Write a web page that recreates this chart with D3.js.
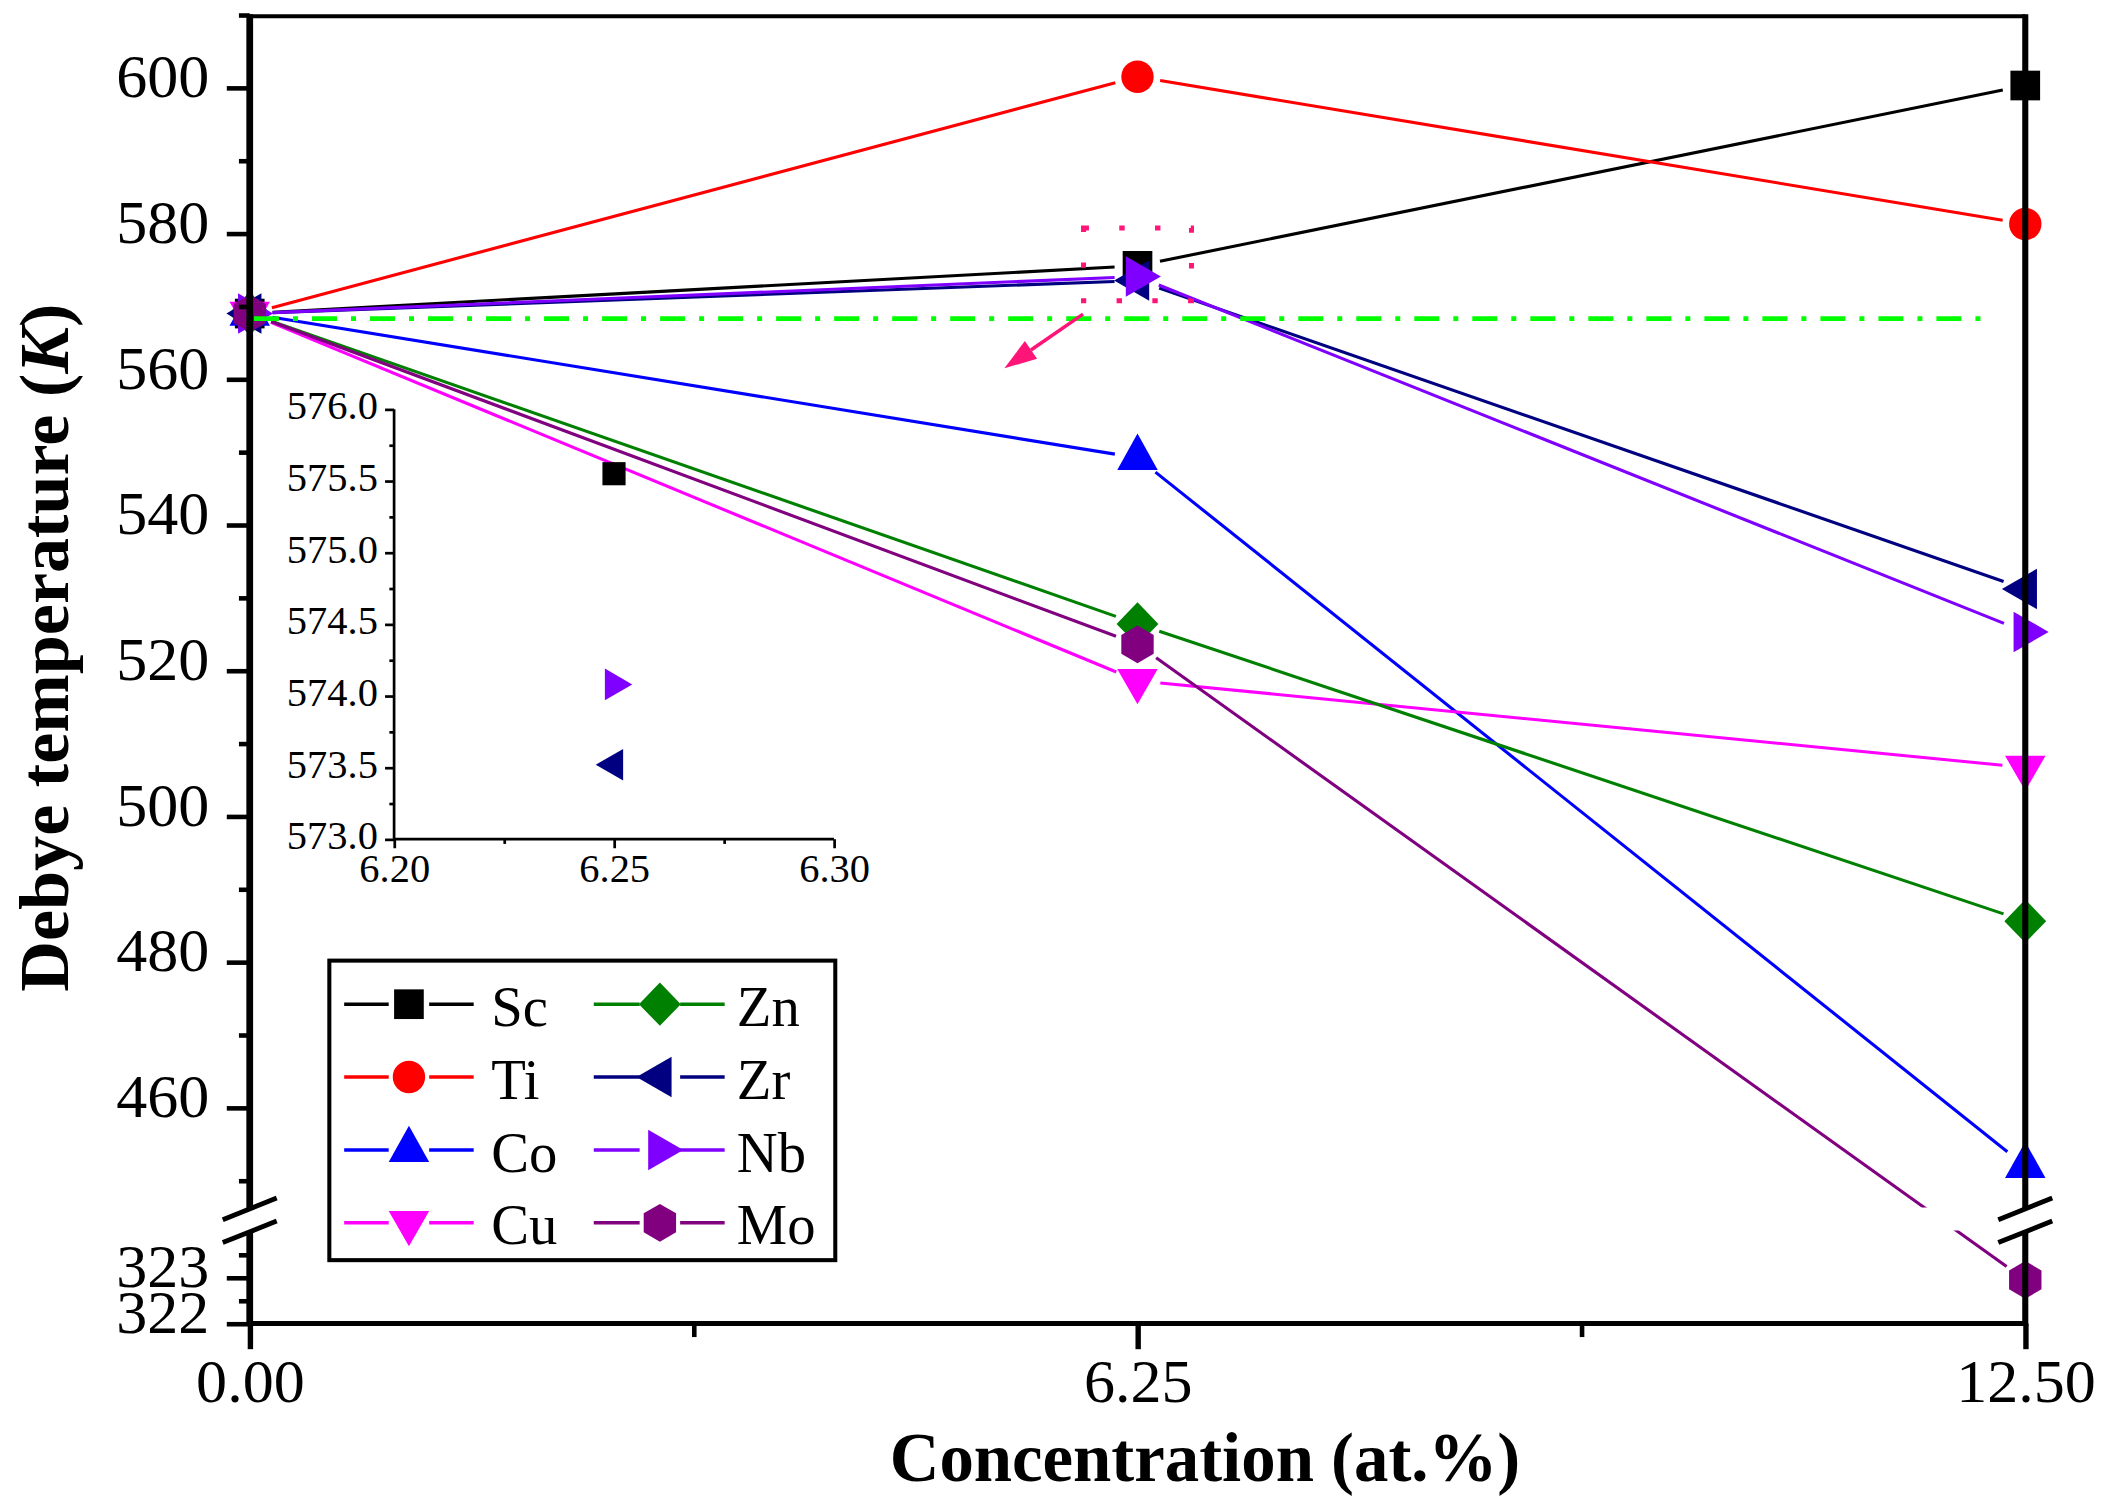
<!DOCTYPE html>
<meta charset="utf-8">
<body style="margin:0;background:#fff">

<script src="https://cdn.jsdelivr.net/npm/d3@7"></script>
<script>
// values: Debye temperature (K) vs dopant concentration (at.%)
var conc = [0, 6.25, 12.5];
var names = ["Sc", "Ti", "Co", "Cu", "Zn", "Zr", "Nb", "Mo"];
var sc = [569.0, 575.55, 600.3];
var ti = [569.0, 601.5, 581.3];
var co = [569.0, 549.2, 452.0];
var cu = [569.0, 518.6, 506.7];
var zn = [569.0, 526.4, 485.6];
var zr = [569.0, 573.52, 531.2];
var nb = [569.0, 574.08, 525.3];
var mo = [569.0, 523.6, 322.95];
var series = [sc, ti, co, cu, zn, zr, nb, mo];

var pureTheta = 568.3;          // green dash-dot reference line
var pureSpan = [0.03, 12.2];    // x extent of that line

var yTicksUpper = [460, 480, 500, 520, 540, 560, 580, 600];
var yMinorUpper = [450, 470, 490, 510, 530, 550, 570, 590, 610];
var yTicksLower = [322, 323];
var yMinorLower = [322.5, 323.5];
var xTicks = [0, 6.25, 12.5];
var xMinor = [3.125, 9.375];

// inset (zoom on 6.25 at.%)
var insetNames = ["Sc", "Nb", "Zr"];
var insetYTicks = [573.0, 573.5, 574.0, 574.5, 575.0, 575.5, 576.0];
var insetYMinor = [573.25, 573.75, 574.25, 574.75, 575.25, 575.75];
var insetXTicks = [6.20, 6.25, 6.30];
var insetXMinor = [6.225, 6.275];

var colors = ["#000000", "#ff0000", "#0000ff", "#ff00ff", "#008000", "#000080", "#8000ff", "#800080"];
var shapes = ["square", "circle", "up", "down", "diamond", "left", "right", "hexagon"];

var font = "'Liberation Serif', 'Times New Roman', serif";

var svg = d3.select("body").append("svg")
    .attr("width", 2105)
    .attr("height", 1503)
    .attr("viewBox", "0 0 1560 1114")
    .style("display", "block")
    .style("font-family", font);

var pl = 185, pr = 1501, pt = 12, pb = 981, breakY = 904;

var x = d3.scaleLinear().domain([0, 12.5]).range([pl, pr]);
var yUp = d3.scaleLinear().domain([445, 610]).range([902, 11]);
var yLow = d3.scaleLinear().domain([322, 324.32]).range([pb, 902]);
function y(v) { return v < 400 ? yLow(v) : yUp(v); }

var ix = d3.scaleLinear().domain([6.2, 6.3]).range([292, 618]);
var iy = d3.scaleLinear().domain([573, 576]).range([622, 303.3]);

var line = d3.line();
function marker(shape, k) {
  k = k || 1;
  var p, w, h;
  switch (shape) {
    case "square": var s = 11 * k; p = [[-s, -s], [s, -s], [s, s], [-s, s]]; break;
    case "circle":
      var r = 12 * k;
      return "M" + (-r) + ",0A" + r + "," + r + " 0 1,0 " + r + ",0A" + r + "," + r + " 0 1,0 " + (-r) + ",0Z";
    case "up": w = 15 * k; h = 27 * k; p = [[0, -2 * h / 3], [w, h / 3], [-w, h / 3]]; break;
    case "down": w = 15 * k; h = 26 * k; p = [[0, 2 * h / 3], [w, -h / 3], [-w, -h / 3]]; break;
    case "left": w = 26 * k; h = 15 * k; p = [[-2 * w / 3, 0], [w / 3, -h], [w / 3, h]]; break;
    case "right": w = 26 * k; h = 15 * k; p = [[2 * w / 3, 0], [-w / 3, -h], [-w / 3, h]]; break;
    case "diamond": p = [[0, -16 * k], [15.5 * k, 0], [0, 16 * k], [-15.5 * k, 0]]; break;
    case "hexagon": p = [[0, -14 * k], [12 * k, -7 * k], [12 * k, 7 * k], [0, 14 * k], [-12 * k, 7 * k], [-12 * k, -7 * k]]; break;
  }
  return line(p) + "Z";
}

// trim a segment at both ends so the line stops short of the symbols
function trimmed(a, b, g) {
  var dx = b[0] - a[0], dy = b[1] - a[1], L = Math.sqrt(dx * dx + dy * dy);
  var ux = dx / L, uy = dy / L;
  return [[a[0] + ux * g, a[1] + uy * g], [b[0] - ux * g, b[1] - uy * g]];
}

// ---- inset axes ----
var inset = svg.append("g");
inset.append("g")
    .attr("transform", "translate(292,0)")
    .call(d3.axisLeft(iy).tickValues(insetYTicks).tickSize(6.7).tickPadding(5).tickFormat(d3.format(".1f")))
    .call(function(g) {
      g.select(".domain").remove();
      g.selectAll("line").attr("stroke-width", 2);
      g.selectAll("text").attr("dy", 7).attr("x", -12);
    });
inset.append("g")
    .attr("transform", "translate(292,0)")
    .call(d3.axisLeft(iy).tickValues(insetYMinor).tickSize(3.5).tickFormat(""))
    .call(function(g) { g.select(".domain").remove(); g.selectAll("line").attr("stroke-width", 2); });
inset.append("g")
    .attr("transform", "translate(0,622)")
    .call(d3.axisBottom(ix).tickValues(insetXTicks).tickSize(6.7).tickFormat(d3.format(".2f")))
    .call(function(g) {
      g.select(".domain").remove();
      g.selectAll("line").attr("stroke-width", 2);
      g.selectAll("text").attr("y", 32).attr("dy", 0);
    });
inset.append("g")
    .attr("transform", "translate(0,622)")
    .call(d3.axisBottom(ix).tickValues(insetXMinor).tickSize(3.5).tickFormat(""))
    .call(function(g) { g.select(".domain").remove(); g.selectAll("line").attr("stroke-width", 2); });
inset.selectAll(".tick text").attr("font-size", 30).attr("font-family", font).attr("fill", "#000");
inset.append("path")
    .attr("d", "M292,303.3V622H618")
    .attr("fill", "none").attr("stroke", "#000").attr("stroke-width", 2);

// ---- series ----
var plot = svg.append("g");
series.forEach(function(vals, s) {
  var pts = conc.map(function(c, i) { return [x(c), y(vals[i])]; });
  var g = plot.append("g");
  for (var i = 0; i < pts.length - 1; i++) {
    g.append("path")
        .attr("d", line(trimmed(pts[i], pts[i + 1], 17)))
        .attr("fill", "none")
        .attr("stroke", colors[s])
        .attr("stroke-width", 2.3);
  }
  g.selectAll("path.sym").data(pts).enter().append("path")
      .attr("class", "sym")
      .attr("transform", function(d) { return "translate(" + d[0] + "," + d[1] + ")"; })
      .attr("d", marker(shapes[s]))
      .attr("fill", colors[s]);
});

// pure reference (dash-dot)
svg.append("path")
    .attr("d", line([[x(pureSpan[0]), y(pureTheta)], [x(pureSpan[1]), y(pureTheta)]]))
    .attr("stroke", "#00ff00")
    .attr("stroke-width", 3.6)
    .attr("stroke-dasharray", "18.5,10.4,3.7,10.4");

// inset symbols
insetNames.forEach(function(n) {
  var s = names.indexOf(n);
  svg.append("path")
      .attr("transform", "translate(" + ix(conc[1]) + "," + iy(series[s][1]) + ")")
      .attr("d", marker(shapes[s], 0.78))
      .attr("fill", colors[s]);
});

// white gap where the axis is broken
svg.append("rect")
    .attr("x", pl + 2).attr("y", breakY - 9)
    .attr("width", pr - pl - 4).attr("height", 17)
    .attr("fill", "#fff");

// ---- main axes ----
var ax = svg.append("g");
function styleAxis(g, w) {
  g.select(".domain").remove();
  g.selectAll("line").attr("stroke-width", w);
  g.selectAll("text").attr("font-size", 46).attr("font-family", font).attr("fill", "#000");
}
ax.append("g").attr("transform", "translate(" + pl + ",0)")
    .call(d3.axisLeft(yUp).tickValues(yTicksUpper).tickSize(17).tickPadding(13).tickFormat(d3.format("d")))
    .call(function(g) { styleAxis(g, 3.4); g.selectAll("text").attr("dy", 6.5); });
ax.append("g").attr("transform", "translate(" + pl + ",0)")
    .call(d3.axisLeft(yUp).tickValues(yMinorUpper).tickSize(8).tickFormat(""))
    .call(function(g) { styleAxis(g, 3.4); });
ax.append("g").attr("transform", "translate(" + pl + ",0)")
    .call(d3.axisLeft(yLow).tickValues(yTicksLower).tickSize(17).tickPadding(13).tickFormat(d3.format("d")))
    .call(function(g) { styleAxis(g, 3.4); g.selectAll("text").attr("dy", 6.5); });
ax.append("g").attr("transform", "translate(" + pl + ",0)")
    .call(d3.axisLeft(yLow).tickValues(yMinorLower).tickSize(8).tickFormat(""))
    .call(function(g) { styleAxis(g, 3.4); });
ax.append("g").attr("transform", "translate(0," + pb + ")")
    .call(d3.axisBottom(x).tickValues(xTicks).tickSize(19).tickFormat(d3.format(".2f")))
    .call(function(g) { styleAxis(g, 4); g.selectAll("text").attr("y", 58).attr("dy", 0); });
ax.append("g").attr("transform", "translate(0," + pb + ")")
    .call(d3.axisBottom(x).tickValues(xMinor).tickSize(10).tickFormat(""))
    .call(function(g) { styleAxis(g, 3.4); });

ax.append("path").attr("d", "M" + pl + "," + pt + "H" + pr)
    .attr("stroke", "#000").attr("stroke-width", 3);
ax.append("path").attr("d", "M" + pl + "," + pb + "H" + pr)
    .attr("stroke", "#000").attr("stroke-width", 3.8);
ax.append("path").attr("d", "M" + pl + "," + (pt - 1.5) + "V" + (pb + 1.9))
    .attr("stroke", "#000").attr("stroke-width", 5);
ax.append("path").attr("d", "M" + pr + "," + (pt - 1.5) + "V" + (pb + 1.9))
    .attr("stroke", "#000").attr("stroke-width", 4.5);

// break marks on both axes
[pl, pr].forEach(function(a) {
  var b = breakY;
  ax.append("path")
      .attr("d", line([[a - 20, b], [a + 20, b - 16], [a + 20, b + 1], [a - 20, b + 17]]) + "Z")
      .attr("fill", "#fff");
  ax.append("path").attr("d", line([[a - 20, b], [a + 20, b - 16]]))
      .attr("stroke", "#000").attr("stroke-width", 3.6);
  ax.append("path").attr("d", line([[a - 20, b + 17], [a + 20, b + 1]]))
      .attr("stroke", "#000").attr("stroke-width", 3.6);
});

// axis titles
svg.append("text")
    .attr("x", 893).attr("y", 1098)
    .attr("text-anchor", "middle")
    .attr("font-size", 51).attr("font-weight", "bold")
    .text("Concentration (at.%)");
var yt = svg.append("text")
    .attr("transform", "translate(50,480) rotate(-90)")
    .attr("text-anchor", "middle")
    .attr("font-size", 52).attr("font-weight", "bold");
yt.append("tspan").text("Debye temperature (");
yt.append("tspan").attr("font-style", "italic").text("K");
yt.append("tspan").text(")");

// highlight box + arrow pointing to the inset
svg.append("rect")
    .attr("x", 803).attr("y", 169).attr("width", 80).attr("height", 54)
    .attr("fill", "none").attr("stroke", "#ff1478")
    .attr("stroke-width", 3.7).attr("stroke-dasharray", "4,22.5");
(function() {
  var a = [802.6, 232.8], t = [744.3, 273];
  var dx = t[0] - a[0], dy = t[1] - a[1], L = Math.sqrt(dx * dx + dy * dy);
  var ux = dx / L, uy = dy / L, hl = 24, hw = 8;
  var base = [t[0] - ux * hl, t[1] - uy * hl];
  svg.append("path").attr("d", line([a, base]))
      .attr("stroke", "#ff1478").attr("stroke-width", 2.6);
  svg.append("path")
      .attr("d", line([t, [base[0] - uy * hw, base[1] + ux * hw], [base[0] + uy * hw, base[1] - ux * hw]]) + "Z")
      .attr("fill", "#ff1478");
})();

// ---- legend ----
var leg = svg.append("g");
leg.append("rect")
    .attr("x", 244).attr("y", 712).attr("width", 375).attr("height", 222)
    .attr("fill", "#fff").attr("stroke", "#000").attr("stroke-width", 3);
var colX = [{l0: 255, m: 303, l1: 351, t: 364}, {l0: 440, m: 489, l1: 537, t: 546}];
names.forEach(function(n, s) {
  var c = colX[Math.floor(s / 4)], ry = 744.3 + (s % 4) * 54;
  leg.append("path").attr("d", line([[c.l0, ry], [c.m - 15, ry]]))
      .attr("stroke", colors[s]).attr("stroke-width", 2.6);
  leg.append("path").attr("d", line([[c.m + 15, ry], [c.l1, ry]]))
      .attr("stroke", colors[s]).attr("stroke-width", 2.6);
  leg.append("path")
      .attr("transform", "translate(" + c.m + "," + ry + ")")
      .attr("d", marker(shapes[s]))
      .attr("fill", colors[s]);
  leg.append("text")
      .attr("x", c.t).attr("y", ry + 16)
      .attr("font-size", 42)
      .text(n);
});
</script>
</body>
